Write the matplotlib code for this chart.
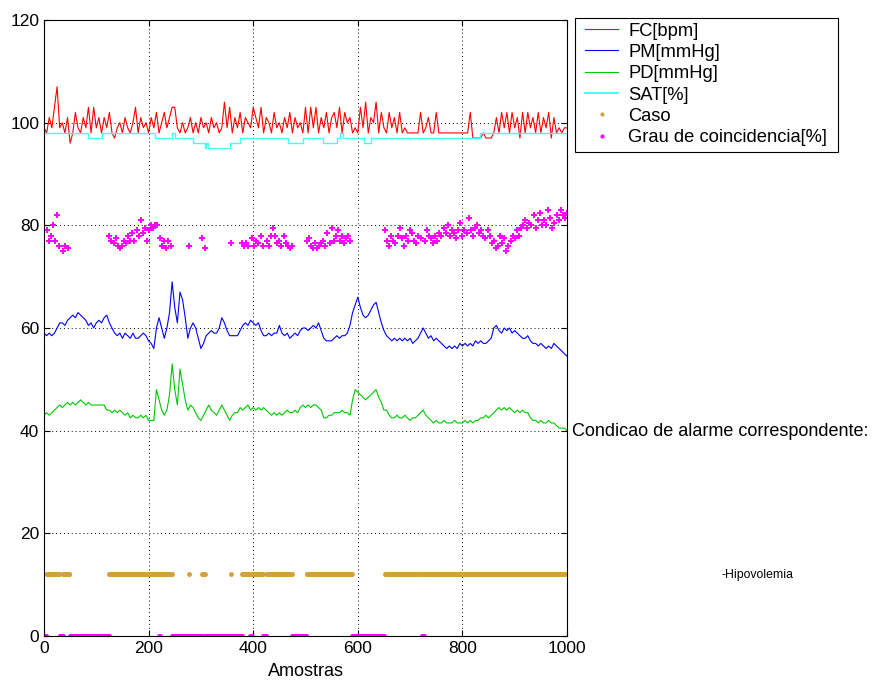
import numpy as np
import matplotlib
matplotlib.use("Agg")
import matplotlib.pyplot as plt
from matplotlib.lines import Line2D
from matplotlib.patches import Rectangle

plt.rcParams['font.family'] = ['Liberation Sans', 'DejaVu Sans']

# ---------------- data ----------------
step = 5  # FC / PM / PD sampled every 5 "amostras"

fc = [99,98,101,99,103,107,99,100,98,101,
      96,98,102,99,98,101,99,103,98,103,
      99,101,98,101,99,102,98,97,99,100,
      98,101,99,98,100,103,98,101,99,100,
      98,101,99,102,98,100,102,99,101,103,
      103,99,98,100,98,99,101,98,100,98,
      101,99,100,98,101,99,100,98,99,104,
      99,103,98,101,99,102,98,101,100,99,
      103,101,99,103,98,101,100,98,102,99,
      100,98,101,99,102,98,101,99,100,98,
      103,98,103,99,103,98,101,99,102,98,
      101,102,99,103,98,102,100,101,98,99,
      98,103,99,104,98,101,100,104,98,102,
      99,98,102,99,101,98,102,98,99,98,
      98,98,98,98,102,98,99,101,98,98,
      102,98,98,98,98,98,98,98,98,98,
      98,98,98,102,97,97,97,97,98,97,
      97,97,98,101,98,102,99,102,98,102,
      99,101,97,102,98,102,99,101,98,102,
      98,101,99,102,97,101,98,99,98,99,99]

pm = [59,58.5,59,58.5,59,60,61,61,60.5,61.5,
      62,62.5,62,63,62.5,62,61.5,60.5,61,60,
      61,61.5,61,62,62.5,61,60,59,58.5,59,
      58,59,58.5,58,59,58,58,58.5,59,58.5,
      57.5,57,56,60,62,60,58,60,63,69,
      64,61,67,65.5,62,58,60,61,60,58,
      56,57,58.5,59,59.5,59,59,60,62,61,
      59.5,58.5,58.5,58.5,58.5,59.5,60.5,61,60.5,61.5,
      61,60.5,61,59.5,58.5,58.5,59,58.5,59,59,
      60.5,59,58.5,59,58,58.5,59,58.5,59.5,60,
      60,59.5,60,60.5,60,61,59.5,58,57.5,57.5,
      57.5,58,58.5,58,58.5,58.5,59,60.5,63,64.5,
      66,64,62.5,62,62.5,63.5,64.5,65,63,61,
      59.5,58.5,58,57.5,58,57.5,58,57.5,58,57.5,
      58,57,57.5,58,59,60,59,58,58.5,57.5,
      58,57.5,57,56.5,56,56.5,56,56.5,56,57,
      56.5,57,56.5,57,56.5,57.5,57,57.5,57,57,
      57.5,58,60,60.5,59.5,59,60,59.5,60,59,
      59.5,59,58.5,58,58,58.5,57.5,57,57,56.5,
      57,56.5,56,56.5,56,57,56.5,56,55.5,55,54.5]

pd_ = [43,43.5,43,43.5,44,44.5,45,44.5,45,45.5,
       45,45.5,45,45.5,46,45.5,45,45.5,45,45,
       45,45,45,45,44,44,43.5,44,43.5,44,
       43.5,43,43.5,42.5,43,42.5,42.5,43,42.5,43,
       42,42,42,48,46,44,43,44,47,53,
       48,45,52,49,46,44,45,44.5,43.5,42.5,
       42,43,44,45,44,43.5,43,44,45,44,
       43,42,43,43.5,43.5,44.5,44,44.5,45,44,
       44.5,44,44.5,44,44.5,44,43.5,43,43.5,43,
       43.5,43,43.5,44,43.5,43.5,44,43.5,44.5,45,
       44.5,45,44.5,45,45,44.5,44,42.5,42.5,43,
       43,43.5,43.5,43.5,44,43.5,43.5,43,46,48,
       47.5,47,46.5,46,46.5,47,47.5,48,46.5,45.5,
       44,44,43,42.5,42.5,43,42.5,42.5,43,42.5,
       42,42.5,42.5,43,43.5,44,43,42.5,42,41.5,
       42,41.5,41.5,42,41.5,41.5,41.5,42,41.5,41.5,
       41.5,42,41.5,42,41.5,42,42,42.5,42.5,43,
       42.5,43,43.5,44,44.5,44,44.5,44,44.5,44,
       43.5,44,43.5,44,43.5,43.5,42.5,42,42,41.5,
       42,41.5,41.5,42,41.5,41.5,41,40.5,40.5,40.5,40]

# SAT: step function (start sample, value)
sat_start = [0, 85, 110, 212, 244, 250, 285, 307, 310, 313, 356, 375, 467, 496,
             534, 560, 566, 572, 611, 626, 834, 1000]
sat_value = [98, 97, 98, 97, 98, 97, 96, 95, 96, 95, 96, 97, 96, 97,
             96, 97, 98, 97, 96, 97, 98, 98]

# Caso (alarm case present) intervals, plotted at level 12
caso_intervals = [(5, 29), (37, 48), (125, 219), (222, 244), (277, 277), (303, 307),
                  (358, 358), (379, 393), (398, 418), (426, 474), (502, 588),
                  (652, 722), (728, 1000)]
caso_level = 12

# Grau de coincidencia [%] inside each caso interval, every 4 samples
grau_step = 4
grau_values = [
    [79, 77, 78, 80, 77, 82, 76],
    [75, 76, 75.5],
    [78, 77, 76.5, 77.5, 76, 75.5, 76, 77, 76.5, 78, 77, 78.5, 77, 79, 78, 81,
     78.5, 79.5, 77, 79, 80, 79.5, 80, 80],
    [77.5, 76, 77, 75.5, 77, 76],
    [76],
    [77.5, 75.5],
    [76.5],
    [76.5, 76, 76.5, 76],
    [77.5, 76, 77, 76.5, 78, 76],
    [77, 76, 78, 79.5, 78, 76.5, 77, 76, 78, 76.5, 76, 75.5, 76],
    [77, 77.5, 76, 75.5, 76.5, 75.5, 76, 76.5, 77, 76, 78.5, 76.5, 79.5, 77, 78,
     79, 77, 78, 76.5, 77.5, 78, 77],
    [79, 77, 76, 78, 77, 76.5, 78, 79.5, 77.5, 76, 78, 77, 79, 78.5, 77, 76.5, 78, 77.5],
    [77, 79, 78, 77.5, 76.5, 78, 77, 78.5,
     78, 79.5, 78.5, 80, 78, 79, 78.5, 77.5, 79, 80.5, 78, 79, 78.5, 81.5, 79, 78,
     79.5, 80, 78.5, 79, 78, 77.5, 79, 78, 76.5,
     77, 75.5, 76, 78, 76.5, 77.5, 75, 76, 77, 78, 77.5, 79, 78,
     79.5, 80, 81, 79.5, 80.5, 80, 82, 79.5, 81, 82.5, 80,
     81, 80, 83, 81.5, 79.5, 80.5, 82, 81, 83, 82, 81.5, 82.5],
]

n_samples = 1000
xticks = [0, 200, 400, 600, 800, 1000]
yticks = [0, 20, 40, 60, 80, 100, 120]

# ---------------- figure ----------------
W, H = 873, 684
fig = plt.figure(figsize=(W / 100, H / 100), dpi=100)
ax = fig.add_axes([44 / W, 1 - 636 / H, (567 - 44) / W, (636 - 20) / H])

x5 = np.arange(len(fc)) * step
ax.plot(x5, fc, color='#FF0000', lw=0.8, label='FC[bpm]')
ax.plot(np.arange(len(pm)) * step, pm, color='#0000FF', lw=0.8, label='PM[mmHg]')
ax.plot(np.arange(len(pd_)) * step, pd_, color='#00C800', lw=0.8, label='PD[mmHg]')
ax.step(sat_start, sat_value, where='post', color='#44FFFF', lw=1.0, label='SAT[%]')

caso_color = '#D4A03C'
mag = '#FF00FF'
mask = np.zeros(n_samples + 1, dtype=bool)
for a, b in caso_intervals:
    mask[a:b + 1] = True
allx = np.arange(n_samples + 1)
ax.plot(allx[mask], np.full(mask.sum(), caso_level), '.', color=caso_color, ms=5,
        label='Caso')

gx, gy = [], []
for (a, b), vals in zip(caso_intervals, grau_values):
    xs = list(range(a, b + 1, grau_step))
    for xx, vv in zip(xs, vals):
        gx.append(xx)
        gy.append(vv)
ax.plot(gx, gy, '+', color=mag, ms=4, mew=1.4)
zx = allx[~mask]
ax.plot(zx, np.zeros(len(zx)), '.', color=mag, ms=5)

ax.set_xlim(0, 1000)
ax.set_ylim(0, 120)
ax.set_xticks(xticks)
ax.set_yticks(yticks)
ax.tick_params(direction='in', top=True, right=True, labelsize=12.5, length=4, width=0.8)
ax.grid(True, linestyle=(0, (1, 3)), color='black', lw=0.7)
for s in ax.spines.values():
    s.set_linewidth(0.8)
ax.set_xlabel('Amostras', fontsize=13, labelpad=5)

handles = [Line2D([], [], color='#FF0000', lw=0.8),
           Line2D([], [], color='#0000FF', lw=0.8),
           Line2D([], [], color='#00C800', lw=0.8),
           Line2D([], [], color='#44FFFF', lw=1.4),
           Line2D([], [], marker='.', ls='none', color=caso_color, ms=4),
           Line2D([], [], marker='.', ls='none', color=mag, ms=4)]
labels = ['FC[bpm]', 'PM[mmHg]', 'PD[mmHg]', 'SAT[%]', 'Caso', 'Grau de coincidencia[%]']
leg = fig.legend(handles, labels, loc='upper left', bbox_to_anchor=(580.5 / W, 1 - 18 / H),
                 fontsize=13.2, frameon=False,
                 handlelength=1.8, handletextpad=0.55, labelspacing=0.235,
                 borderpad=0.25, borderaxespad=0)
# legend box (drawn separately for exact MATLAB-like padding)
fig.patches.append(Rectangle((575 / W, 1 - 152 / H), (838 - 575) / W, (152 - 18) / H,
                             transform=fig.transFigure, fill=False, edgecolor='black',
                             lw=0.8, zorder=5))

fig.text(572 / W, 1 - 431 / H, 'Condicao de alarme correspondente:', fontsize=13.0,
         ha='left', va='center')
fig.text(722 / W, 1 - 575 / H, '-Hipovolemia', fontsize=8.8, ha='left', va='center')

fig.savefig('out.png', dpi=100)
